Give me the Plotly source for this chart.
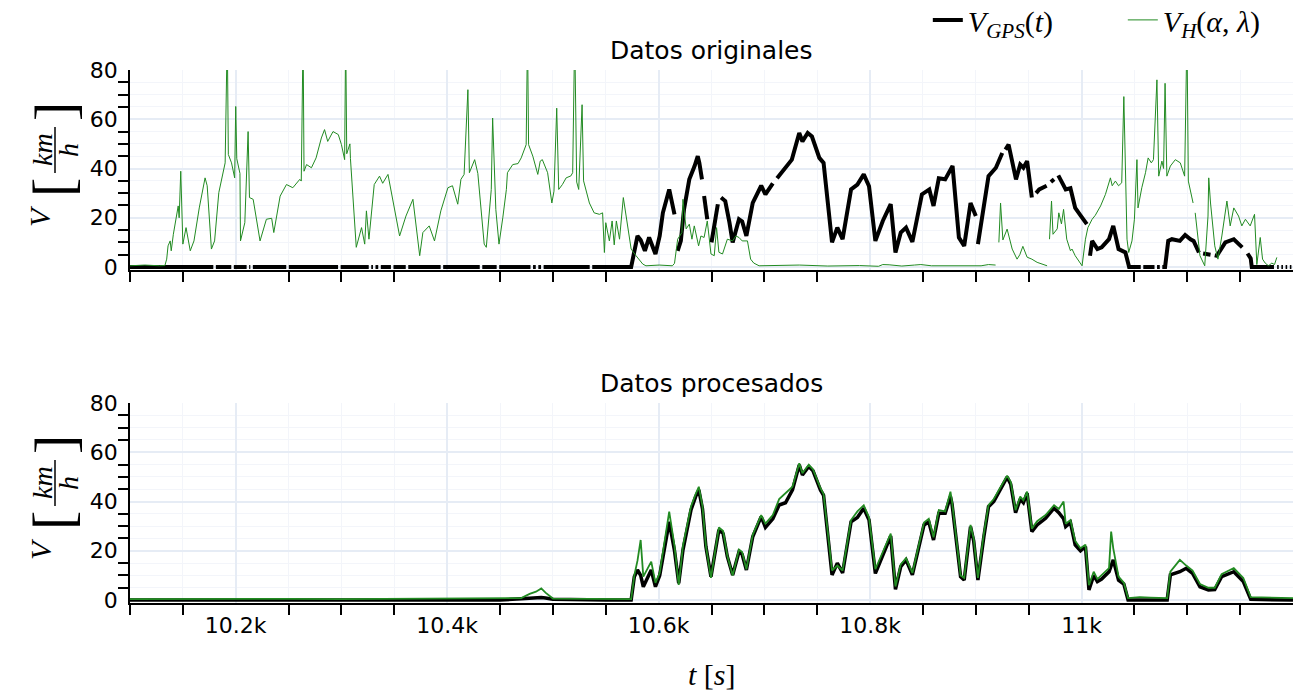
import plotly.graph_objects as go

# ---------------- data ----------------
# Raw GPS speed (gaps = missing fixes)
t_gps_raw = [
    10100, 10178.8, 10180, 10181.2, 10195.8, 10197, 10198.2, 10210.3, 10211.5, 10212.7,
    10213.8, 10215, 10216.2, 10247.8, 10249, 10250.2, 10296.8, 10298, 10299.2, 10325.8,
    10327, 10328.2, 10329.8, 10331, 10332.2, 10334.8, 10336, 10337.2, 10346.8, 10348,
    10349.2, 10360.8, 10362, 10363.2, 10393.8, 10395, 10396.2, 10430.8, 10432, 10433.2,
    10446.8, 10448, 10449.2, 10478.8, 10480, 10481.2, 10483.8, 10485, 10486.2, 10488.8,
    10490, 10491.2, 10534.8, 10536, 10537.2, 10574,
    10580, 10583, 10587, 10591, 10597, 10601, 10604, 10610, 10615, 10616.5,
    10618, 10621, 10624, 10629, 10634, 10637, 10638.5, 10641, 10642, 10643,
    10646, 10648, 10650, 10656, 10657.5, 10659, 10663, 10667, 10670, 10676,
    10679, 10683, 10689, 10697, 10701, 10708, 10710, 10712, 10719, 10726,
    10733, 10736, 10741, 10745, 10752, 10756, 10764, 10769, 10774, 10782,
    10788, 10794, 10799, 10805, 10812, 10819.5, 10824, 10829, 10834, 10840,
    10849, 10856, 10860, 10865, 10871, 10878, 10884, 10889, 10895, 10900,
    10901, 10902, 10908, 10912, 10919, 10925, 10926.5, 10928, 10931, 10938,
    10942, 10945, 10948.5, 10953, 10955, 10957, 10960, 10967, 10969, 10971,
    10974, 10976, 10978, 10985, 10989.5, 10994, 10999, 11005, 11006.5, 11008,
    11010, 11015, 11019, 11026, 11030, 11035, 11041.5, 11045, 11056, 11057.2,
    11058.4, 11069, 11070.2, 11071.4, 11074, 11075.2, 11076.4, 11079, 11082, 11085.5,
    11093, 11098, 11103, 11106, 11111, 11113, 11115, 11119, 11122, 11124,
    11126, 11128, 11136, 11144, 11152, 11155, 11157, 11160, 11161, 11182,
    11183.5, 11185, 11186.5, 11187.5, 11189, 11190.5, 11191.5, 11193, 11194.5, 11195.5,
    11197, 11198.5,
]
v_gps_raw = [
    0, 0, None, 0, 0, None, 0, 0, None, 0,
    0, None, 0, 0, None, 0, 0, None, 0, 0,
    None, 0, 0, None, 0, 0, None, 0, 0, None,
    0, 0, None, 0, 0, None, 0, 0, None, 0,
    0, None, 0, 0, None, 0, 0, None, 0, 0,
    None, 0, 0, None, 0, 0,
    12.6, 11, 6.6, 12, 5.3, 12.6, 22, 31.5, 21.4, None,
    6.6, 10.6, 23.4, 35.6, 41, 45, 42.3, 35.6, None, 28.8,
    19.4, None, 10, 25.5, None, 28.2, 26.8, 18, 10, 19.4,
    18.5, 12.6, 26, 33, 29.5, 34, None, 36, 39.6, 43.6,
    54.4, 51, 54.4, 53, 44.3, 42.3, 10, 16, 11.3, 31.5,
    33.5, 37.6, 32.8, 10.6, 18.7, 25.5, 5.9, 14, 16, 10.2,
    29.5, 31.5, 24.8, 36, 35.6, 41, 12, 8.6, 26, 20.7,
    None, 9.3, 26, 36.9, 40.3, 46.3, None, 47.7, 49.7, 35.6,
    41.6, 40.3, 43, 28.2, None, 30, 31.5, 33, None, 34.5,
    35.6, None, 37.2, 31.5, 32, 24, 21, 17.4, None, 4.6,
    10.6, 7.3, 8, 11.3, 16.7, 7.3, 5.9, 0, 0, None,
    0, 0, None, 0, 0, None, 0, 0, 10.6, 11.3,
    10.6, 13, 11.3, 10.6, 5.9, None, 5.5, 5.3, 5, None,
    4.8, 4.6, 10, 11.3, 8, None, 5.5, 3.5, 0, 0,
    None, 0, 0, None, 0, 0, None, 0, 0, None,
    0, 0,
]

# Raw speed estimate from the H model
t_h_raw = [
    10100, 10114, 10128, 10133, 10134.7, 10136, 10138, 10139, 10141, 10142.5,
    10144.7, 10145.6, 10146.5, 10148, 10150, 10153, 10157, 10160.5, 10165.5, 10171,
    10173, 10175, 10177, 10180, 10184, 10190, 10192, 10193, 10196, 10199,
    10200, 10201, 10204, 10204.5, 10208.6, 10211.7, 10213, 10216.5, 10223, 10229,
    10234, 10236, 10242, 10248, 10254, 10260.6, 10262, 10263.7, 10264.6, 10267,
    10271.6, 10276, 10281, 10284, 10287, 10292, 10297, 10300, 10303, 10304,
    10305, 10308, 10308.5, 10314, 10319, 10322, 10323.6, 10326, 10331, 10336,
    10339, 10344, 10349, 10355, 10361, 10367.6, 10374, 10377, 10383, 10388,
    10394, 10400.7, 10405, 10410, 10413, 10416, 10419.6, 10421, 10426, 10429,
    10435, 10437, 10441.7, 10443, 10446, 10449, 10452.6, 10456, 10457, 10462,
    10467, 10470, 10474.7, 10476, 10477, 10481, 10485.7, 10488, 10490, 10495,
    10499, 10501, 10503.6, 10505.5, 10509, 10512.5, 10517, 10518.7, 10520.6, 10522.5,
    10524.4, 10527.6, 10529, 10531, 10534.5, 10539, 10544, 10547, 10548.7, 10550,
    10553.4, 10556, 10558, 10560, 10563, 10566.6, 10569, 10574, 10578.6, 10585,
    10588, 10600.6, 10613, 10615, 10618, 10622, 10623, 10626, 10629, 10631.5,
    10633.7, 10637.8, 10640, 10643, 10646, 10649.5, 10652.6, 10654.8, 10657, 10660.4,
    10665, 10670, 10673, 10676, 10679, 10684, 10687, 10690, 10695, 10733,
    10760, 10790, 10808, 10812, 10818, 10830, 10842, 10848, 10858, 10880,
    10905, 10912, 10918.7, 10919.5, 10921.8, 10923.4, 10925.6, 10927.5, 10929.6, 10934.4,
    10939, 10941.6, 10944.5, 10948.5, 10953, 10958, 10962.4, 10967.4, 10968.5, 10969.7,
    10971.6, 10973, 10977, 10978.5, 10981, 10983, 10986, 10989.5, 10991, 10994,
    10999, 11000.5, 11003.7, 11006, 11010, 11013, 11018, 11022.6, 11027.3, 11029,
    11032, 11035, 11038, 11040, 11043, 11044.6, 11047.7, 11050, 11052.4, 11053.4,
    11057, 11060.5, 11063, 11066, 11068, 11071.3, 11073, 11076, 11077.6, 11079,
    11080.7, 11084, 11088.7, 11093.4, 11097.5, 11099.7, 11101, 11105.5, 11106.5, 11107.5,
    11112, 11116.5, 11119.6, 11120.3, 11122, 11126, 11129, 11132.7, 11137.5, 11140.6,
    11144, 11148.5, 11151.6, 11155, 11159.5, 11163.6, 11165.8, 11169, 11171.2, 11173.7,
    11176.8, 11180, 11182.5, 11184.7,
]
v_h_raw = [
    0.5, 0.8, 0.5, 0.6, 3.2, 8.6, 10.6, 6.6, 13.3, 16.7,
    21.4, 24.8, 20, 38.9, 9.3, 16, 6.6, 10.6, 24, 36.2,
    33, 22, 7.3, 10.6, 30.2, 42.3, 95, 45.7, 42.3, 36.2,
    65.2, 44, 38, 10.6, 18, 55, 28.2, 27.5, 10.6, 19.4,
    19.8, 14, 28.8, 33.5, 32.2, 35.6, 34.9, 95, 38.9, 41.6,
    40.3, 44.3, 52.4, 55.8, 51, 55, 53.8, 49.7, 43.6, 95,
    46, 50, 44, 8, 16, 9.3, 22.8, 11.3, 33.5, 36.9,
    34, 37.6, 26.8, 12.6, 20.7, 27.5, 4.6, 14, 16.7, 10.6,
    22.8, 32.2, 33, 25.5, 35.6, 37.6, 72, 38.3, 43.6, 38,
    9.3, 8, 31.5, 60.5, 23.4, 9.3, 20, 31.5, 38.3, 41.6,
    42, 44.3, 49.7, 95, 49.7, 45, 37.6, 43, 43.6, 38.3,
    26, 30.8, 64.5, 31.5, 33.5, 36.2, 37, 38.3, 95, 34.5,
    31.5, 65.9, 35, 32, 26, 22, 21.4, 22, 5.9, 18,
    10.6, 18.7, 9, 18.7, 11.3, 28.2, 20.7, 7.3, 4.6, 1.2,
    0.5, 0.8, 0.5, 1.5, 11.3, 14, 27.5, 15.5, 17.4, 11.3,
    16.7, 8.6, 12.6, 12, 18.7, 5.3, 4.6, 16, 6, 5.3,
    11.3, 10.6, 12.6, 12, 10.6, 10.6, 3.2, 1.6, 0.5, 0.8,
    0.4, 0.6, 0.3, 1, 0.9, 0.4, 0.8, 1, 0.5, 0.4,
    0.5, 1, 0.8, None, 10, 26, 11, 13.5, 15.4, 7.3,
    3.2, 5, 8.4, 4, 3.2, 1.9, 1.2, 0.5, None, 11.3,
    26.8, 13.3, 15.5, 22, 17.5, 23.4, 11.3, 6.6, 7.3, 4.6,
    1, 0.5, 11.3, 16, 19.4, 21, 24.8, 29.5, 36.2, 33,
    34.9, 33, 34.2, 69.2, 11.3, 5.9, 10.6, 19.4, 43.6, 24,
    32.2, 38.3, 44.3, 42.3, 43.6, 76, 36.9, 43, 40, 74.6,
    36.9, 41, 43.6, 42.3, 36.9, 95, 34.9, 26, None, 22,
    4.6, 0.5, 20.7, 36.2, 26, 8.6, 3.2, 12.6, 26.8, 16.7,
    24, 20.7, 16.7, 19.4, 16.7, 21.4, 1, 12, 3.2, 1.6,
    0.5, 1.6, 1, 3.9,
]

# Processed series (common time base)
t_proc = [
    10100, 10150, 10200, 10250, 10300, 10350, 10400, 10450, 10470, 10478,
    10484, 10489, 10493, 10500, 10550, 10574, 10577, 10580, 10583, 10585.5,
    10593, 10597, 10601, 10604, 10610, 10615, 10619, 10623, 10630.6, 10635,
    10638, 10641.5, 10644.7, 10649.5, 10654, 10657, 10661, 10665, 10670, 10676,
    10679, 10683, 10689, 10697, 10701, 10708, 10714, 10720, 10726.6, 10733,
    10736, 10742, 10746, 10753, 10756, 10764, 10769, 10774, 10782, 10788,
    10794, 10799, 10805, 10812, 10819.5, 10824, 10829, 10834, 10840, 10851,
    10855.5, 10860, 10865, 10871, 10876, 10877.5, 10885.6, 10889, 10895, 10898,
    10902, 10907.6, 10912, 10917, 10923, 10929.6, 10933, 10937.6, 10942, 10945,
    10948.5, 10953, 10958, 10966, 10974, 10978.5, 10983, 10985, 10989.5, 10994,
    10999, 11003.7, 11007, 11011.5, 11015, 11019, 11026, 11028, 11030, 11035,
    11040, 11044, 11055, 11065, 11081, 11084, 11093, 11099, 11105, 11112,
    11120, 11126, 11132.5, 11144, 11153, 11160, 11200,
]
v_gps_proc = [
    0, 0, 0, 0, 0, 0, 0, 0, 0.5, 0.8,
    0.8, 1, 0.8, 0.3, 0, 0, 9.5, 12.2, 10, 5.4,
    12.2, 5.4, 10, 17.6, 31.8, 20, 6.8, 20.3, 36.6, 42,
    44.7, 37, 21.7, 9.5, 20, 28.5, 27, 17.6, 10.2, 19.6,
    18.5, 12.2, 25.7, 33.9, 29.5, 33, 38.6, 39.5, 44.7, 54.9,
    50.8, 54.2, 52.5, 44.7, 42.5, 10.2, 15, 11, 31.8, 33.5,
    37.3, 32.5, 10.8, 18.5, 26, 4.3, 13.6, 16.3, 10.2, 30.5,
    31.8, 24.4, 35.2, 35.2, 42, 39, 9.5, 8.1, 29.8, 24,
    8.1, 25.7, 37.9, 40, 44.7, 49.9, 47, 35.5, 41, 39.5,
    43.4, 27.8, 30.5, 33.2, 37.3, 35.5, 33, 29.8, 31.5, 22.4,
    20, 21.7, 4.1, 10, 7.5, 8.5, 11.5, 14, 16.3, 8.1,
    6.5, 0, 0, 0, 0, 10.2, 11.5, 12.9, 10.8, 5.4,
    4.1, 4.3, 9.5, 11.5, 7.5, 0.3, 0,
]
v_h_proc = [
    0.4, 0.5, 0.4, 0.5, 0.4, 0.5, 0.4, 0.5, 0.8, 2.5,
    3.4, 4.7, 3.0, 0.6, 0.5, 0.4, 10, 16, 24.4, 9.5,
    15.6, 7, 11, 19, 35.9, 22, 6.1, 22, 38, 43,
    46, 38, 22, 9, 21, 29.5, 28, 18, 10, 20.5,
    19.5, 12.5, 26.5, 34.5, 31, 34.5, 41, 43.4, 46, 55.5,
    51.5, 55, 53, 45.5, 43, 12, 14, 12, 32.5, 36,
    38.5, 33.5, 12.5, 19.5, 27, 5.5, 14.5, 17, 11, 31.5,
    33, 25.5, 36.5, 36, 44, 40, 10, 9, 30.5, 25,
    9, 27, 38.5, 41, 45.5, 50.5, 48, 36.5, 42, 40.5,
    44, 29, 32, 34.5, 38.5, 37, 40, 31, 32.5, 24,
    21, 22.5, 6, 11.5, 8.5, 10, 13, 27.8, 21, 9.5,
    7, 0.8, 1.2, 1, 0.8, 11.5, 16.3, 14, 12, 6.5,
    5, 5, 10.5, 13, 9, 1.2, 0.8,
]

GREEN = "forestgreen"
SERIF = "Liberation Serif"
SANS = "DejaVu Sans"
TICK_FONT = dict(family=SANS, size=22, color="black")

fig = go.Figure()

# top panel: original data
fig.add_trace(go.Scatter(x=t_gps_raw, y=v_gps_raw, mode="lines", xaxis="x2", yaxis="y2",
                         line=dict(color="black", width=4), connectgaps=False,
                         name="<i>V</i><sub><i>GPS</i></sub>(<i>t</i>)"))
fig.add_trace(go.Scatter(x=t_h_raw, y=v_h_raw, mode="lines", xaxis="x2", yaxis="y2",
                         line=dict(color=GREEN, width=1), connectgaps=False,
                         name="<i>V</i><sub><i>H</i></sub>(<i>α</i>, <i>λ</i>)"))
# bottom panel: processed data
fig.add_trace(go.Scatter(x=t_proc, y=v_gps_proc, mode="lines", xaxis="x", yaxis="y",
                         line=dict(color="black", width=3.5), showlegend=False))
fig.add_trace(go.Scatter(x=t_proc, y=v_h_proc, mode="lines", xaxis="x", yaxis="y",
                         line=dict(color=GREEN, width=1.8), showlegend=False))

xaxis_style = dict(
    range=[10100, 11200], tick0=10000, dtick=200, ticks="",
    showline=True, linecolor="black", linewidth=1.5,
    showgrid=True, gridcolor="#E6ECF5", gridwidth=1.5, zeroline=False,
    minor=dict(dtick=50, ticks="outside", ticklen=10, tickcolor="black", tickwidth=1.5,
               showgrid=True, gridcolor="#F3F5FA", gridwidth=1),
    tickfont=TICK_FONT, ticklabelstandoff=2,
)
yaxis_style = dict(
    range=[-1.2, 80], tick0=0, dtick=20, ticks="",
    showline=True, linecolor="black", linewidth=1.5,
    showgrid=True, gridcolor="#E6ECF5", gridwidth=1.5, zeroline=False,
    minor=dict(dtick=5, ticks="outside", ticklen=10, tickcolor="black", tickwidth=1.5,
               showgrid=True, gridcolor="#F3F5FA", gridwidth=1),
    tickfont=TICK_FONT, ticklabelstandoff=6,
)

H_TOP = 0.3752
fig.update_layout(
    width=1297, height=694,
    margin=dict(l=130, r=4, t=70, b=91, autoexpand=False),
    template="plotly_white",
    plot_bgcolor="white", paper_bgcolor="white",
    xaxis=dict(domain=[0, 1], anchor="y", automargin=False, **xaxis_style),
    yaxis=dict(domain=[0, H_TOP], anchor="x", automargin=False, **yaxis_style),
    xaxis2=dict(domain=[0, 1], anchor="y2", showticklabels=False, matches="x",
                automargin=False, **xaxis_style),
    yaxis2=dict(domain=[1 - H_TOP, 1], anchor="x2", automargin=False, **yaxis_style),
    showlegend=True,
    legend=dict(orientation="h", x=0.686, xanchor="left", y=1.094, yanchor="middle",
                font=dict(family=SERIF, size=30, color="black"),
                bgcolor="rgba(0,0,0,0)", entrywidth=150),
)

# subplot titles
for label, ytop in (("Datos originales", 1.0), ("Datos procesados", H_TOP)):
    fig.add_annotation(text=label, x=0.5, y=ytop, xref="paper", yref="paper",
                       xanchor="center", yanchor="bottom", yshift=3, showarrow=False,
                       font=dict(family=SANS, size=25, color="black"))

# x axis label
fig.add_annotation(text="<i>t</i> [<i>s</i>]", x=0.5, y=-0.135, xref="paper", yref="paper",
                   xanchor="center", yanchor="middle", showarrow=False,
                   font=dict(family=SERIF, size=30, color="black"))

# y axis labels:  V [km / h]  (rotated, with stacked fraction)
PW, PH = 1163.0, 533.0


def px_x(px):
    return (px - 130) / PW


def px_y(py):
    return (603 - py) / PH


for dy in (0, 333):
    parts = [
        ("<i>V</i>", 40, 216 + dy, 30),
        ("[", 52, 188 + dy, 58),
        ("]", 54, 112 + dy, 58),
        ("<i>km</i>", 42, 150 + dy, 28),
        ("<i>h</i>", 68, 150 + dy, 28),
    ]
    for txt, x0, y0, sz in parts:
        fig.add_annotation(text=txt, x=px_x(x0), y=px_y(y0), xref="paper", yref="paper",
                           xanchor="center", yanchor="middle", textangle=-90,
                           showarrow=False, font=dict(family=SERIF, size=sz, color="black"))
    fig.add_shape(type="line", xref="paper", yref="paper",
                  x0=px_x(55), x1=px_x(55), y0=px_y(127 + dy), y1=px_y(173 + dy),
                  line=dict(color="black", width=1.5))

fig.write_html("out.html")
